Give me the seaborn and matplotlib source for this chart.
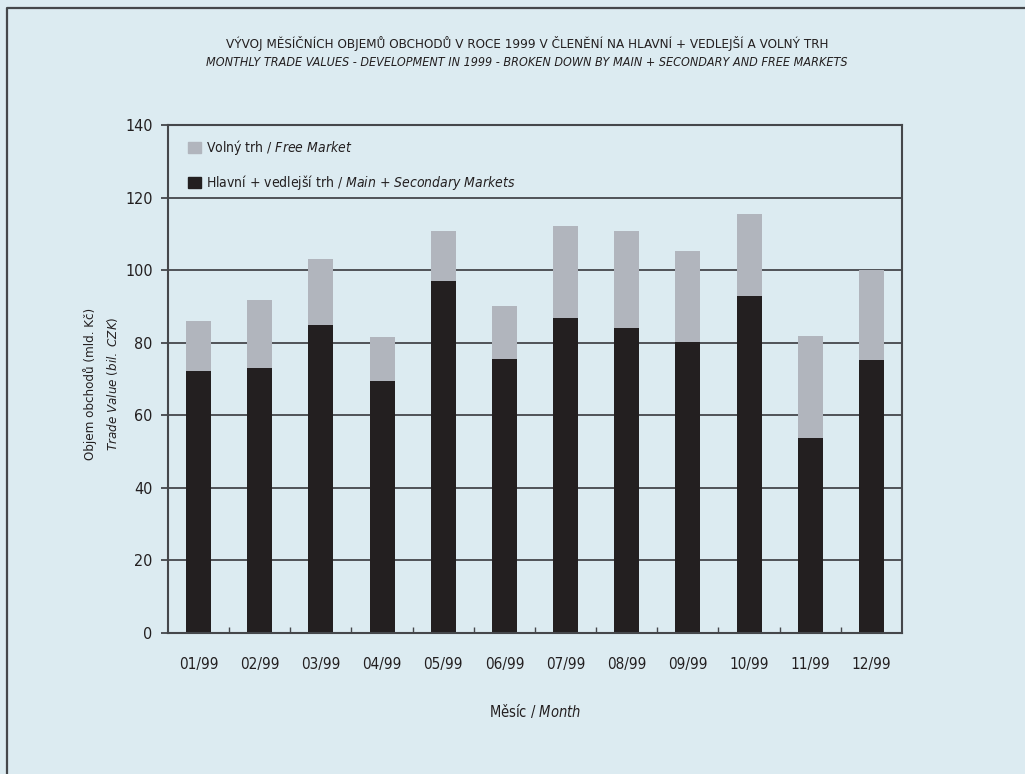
import matplotlib
matplotlib.use('Agg')
import matplotlib.pyplot as plt
import pandas as pd
import seaborn as sns
from matplotlib import font_manager
from matplotlib.patches import Patch
from matplotlib.ticker import MultipleLocator, FixedLocator

months = ['01/99', '02/99', '03/99', '04/99', '05/99', '06/99',
          '07/99', '08/99', '09/99', '10/99', '11/99', '12/99']
main_secondary = [72.3, 73.0, 84.9, 69.5, 97.0, 75.5, 86.8, 84.0, 80.2, 92.8, 53.8, 75.2]
free_market = [13.7, 18.7, 18.1, 12.1, 13.7, 14.6, 25.3, 26.7, 25.0, 22.6, 28.0, 24.8]

BG = '#dcebf1'
DARK = '#231f20'
LIGHT = '#b1b5bd'
LINE = '#45474b'

sns.set_theme(style='white')

names = {f.name for f in font_manager.fontManager.ttflist}
if 'Liberation Sans Narrow' in names:
    family = 'Liberation Sans Narrow'
else:
    family = 'DejaVu Sans'
    plt.rcParams['font.stretch'] = 'condensed'
plt.rcParams['font.family'] = [family, 'DejaVu Sans']
plt.rcParams['mathtext.fontset'] = 'custom'
plt.rcParams['mathtext.rm'] = family
plt.rcParams['mathtext.it'] = family + ':italic'

df = pd.DataFrame({'month': months, 'main': main_secondary, 'free': free_market})
df['total'] = df['main'] + df['free']

fig = plt.figure(figsize=(10.25, 7.74), dpi=100, facecolor=BG)
ax = fig.add_axes([0.1639, 0.1822, 0.7161, 0.6563])
ax.set_facecolor(BG)

# total bar in light grey, main + secondary drawn over it in black
sns.barplot(data=df, x='month', y='total', color=LIGHT, width=0.41,
            saturation=1, ax=ax, zorder=3, linewidth=0, edgecolor='none')
sns.barplot(data=df, x='month', y='main', color=DARK, width=0.41,
            saturation=1, ax=ax, zorder=3, linewidth=0, edgecolor='none')

ax.set_ylim(0, 140)
ax.set_xlim(-0.5, 11.5)
ax.yaxis.set_major_locator(MultipleLocator(20))
ax.grid(axis='y', color=LINE, lw=1.3, zorder=1)
ax.xaxis.set_minor_locator(FixedLocator([i + 0.5 for i in range(11)]))
ax.tick_params(axis='x', which='major', length=0, pad=17, labelsize=11, colors=DARK)
ax.tick_params(axis='x', which='minor', direction='in', length=4, width=1, color=LINE, bottom=True)
ax.tick_params(axis='y', length=5, width=1.3, color=LINE, left=True, pad=6,
               labelsize=11.5, labelcolor=DARK)
for s in ax.spines.values():
    s.set_color(LINE)
    s.set_linewidth(1.5)
    s.set_zorder(4)

ax.set_xlabel('Měsíc / $\\it{Month}$', fontsize=10.5, color=DARK, labelpad=22)
ax.set_ylabel('Objem obchodů (mld. Kč)\n$\\it{Trade\\ Value\\ (bil.\\ CZK)}$',
              fontsize=9.5, color=DARK, linespacing=1.6)
ax.yaxis.set_label_coords(-0.066, 0.49)

handles = [Patch(color=LIGHT), Patch(color=DARK)]
labels = ['Volný trh / $\\it{Free\\ Market}$',
          'Hlavní + vedlejší trh / $\\it{Main\\ {+}\\ Secondary\\ Markets}$']
ax.legend(handles, labels, loc='upper left', bbox_to_anchor=(0.02, 0.985),
          frameon=False, fontsize=10, handlelength=0.9, handleheight=0.9,
          handletextpad=0.4, labelspacing=1.15, borderaxespad=0, labelcolor=DARK)

fig.text(0.514, 0.944, 'VÝVOJ MĚSÍČNÍCH OBJEMŮ OBCHODŮ V ROCE 1999 V ČLENĚNÍ NA HLAVNÍ + VEDLEJŠÍ A VOLNÝ TRH',
         ha='center', va='center', fontsize=9.6, color=DARK)
fig.text(0.514, 0.919, 'MONTHLY TRADE VALUES - DEVELOPMENT IN 1999 - BROKEN DOWN BY MAIN + SECONDARY AND FREE MARKETS',
         ha='center', va='center', fontsize=9.0, color=DARK, style='italic')

fig.add_artist(plt.Line2D([0.0068, 0.0068, 1.0], [0.0, 0.9897, 0.9897],
                          transform=fig.transFigure, color=LINE, lw=1.6))

fig.savefig('out.png', dpi=100, facecolor=BG)
